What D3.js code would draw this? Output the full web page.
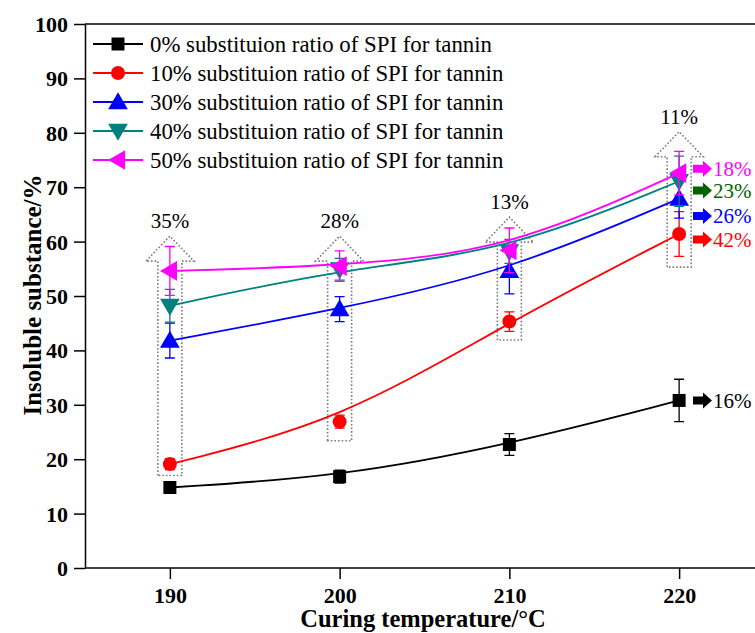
<!DOCTYPE html>
<html>
<head>
<meta charset="utf-8">
<script src="https://cdn.jsdelivr.net/npm/d3@7/dist/d3.min.js"></script>
<style>
  html, body { margin: 0; padding: 0; background: #ffffff; }
  svg { display: block; }
  svg text { font-family: "Liberation Serif", Tinos, "Times New Roman", Times, "DejaVu Serif", serif; }
</style>
</head>
<body>
<svg id="chart" width="755" height="633"></svg>
<script>
// Curing temperatures (°C)
const temps = [190, 200, 210, 220];

// Legend labels for each SPI substitution ratio
const seriesLabels = [
  "0% substituion ratio of SPI for tannin",
  "10% substituion ratio of SPI for tannin",
  "30% substituion ratio of SPI for tannin",
  "40% substituion ratio of SPI for tannin",
  "50% substituion ratio of SPI for tannin"
];

// Insoluble substance (%) per series, and standard deviations
const ratio0  = [14.8, 16.8, 22.7, 30.8];
const ratio10 = [19.1, 26.9, 45.3, 61.4];
const ratio30 = [41.8, 47.6, 54.6, 67.9];
const ratio40 = [48.2, 54.9, 58.2, 71.1];
const ratio50 = [54.6, 55.5, 58.4, 72.6];

const err0  = [0.8, 1.2, 2.0, 3.9];
const err10 = [1.0, 1.2, 1.8, 4.1];
const err30 = [3.2, 2.3, 4.2, 3.6];
const err40 = [3.0, 2.0, 2.2, 4.6];
const err50 = [4.5, 2.8, 4.1, 4.0];

const seriesColors = ["#000000", "#ff0000", "#0000ff", "#008080", "#ff00ff"];
const seriesSymbols = ["square", "circle", "triangleUp", "triangleDown", "triangleLeft"];

// Increase in insoluble substance from 0% to 50% substitution at each temperature
const riseLabels = ["35%", "28%", "13%", "11%"];
const riseFrom   = [17.0, 23.4, 41.9, 55.3];
const riseTo     = [61.0, 61.0, 64.5, 80.2];

// Increase from 190 °C to 220 °C for each series
const gainLabels = ["18%", "23%", "26%", "42%", "16%"];
const gainColors = ["#ff00ff", "#006400", "#0000ff", "#ff0000", "#000000"];
const gainLevels = [73.4, 69.4, 64.7, 60.4, 30.8];

const yTicks = [0, 10, 20, 30, 40, 50, 60, 70, 80, 90, 100];
const xTicks = [190, 200, 210, 220];

const values = [ratio0, ratio10, ratio30, ratio40, ratio50];
const errors = [err0, err10, err30, err40, err50];

const FONT = '"Liberation Serif", Tinos, "Times New Roman", Times, "DejaVu Serif", serif';

const svg = d3.select("#chart");
const plot = { left: 85, top: 24, right: 764, bottom: 568 };

const x = d3.scaleLinear().domain([185, 225]).range([plot.left, plot.right]);
const y = d3.scaleLinear().domain([0, 100]).range([plot.bottom, plot.top]);

// Frame line along the top
svg.append("line")
  .attr("x1", plot.left).attr("x2", plot.right)
  .attr("y1", plot.top).attr("y2", plot.top)
  .attr("stroke", "#000").attr("stroke-width", 1.5);

// Axes
const yAxis = svg.append("g")
  .attr("transform", `translate(${plot.left},0)`)
  .call(d3.axisLeft(y).tickValues(yTicks).tickSize(11).tickPadding(6).tickSizeOuter(0));
const xAxis = svg.append("g")
  .attr("transform", `translate(0,${plot.bottom})`)
  .call(d3.axisBottom(x).tickValues(xTicks).tickSize(11).tickPadding(8).tickSizeOuter(0));

[yAxis, xAxis].forEach(g => {
  g.attr("font-family", null).attr("font-size", null);
  g.select(".domain").attr("stroke", "#000").attr("stroke-width", 1.5);
  g.selectAll(".tick line").attr("stroke", "#000").attr("stroke-width", 1.5);
  g.selectAll(".tick text")
    .attr("fill", "#000")
    .style("font-family", FONT)
    .style("font-weight", "bold")
    .style("font-size", "22px");
});
xAxis.select(".domain").attr("d", `M${plot.left},0H${plot.right}`);
yAxis.selectAll(".tick text").attr("dy", "0.34em");

// Axis titles
svg.append("text")
  .attr("transform", "translate(41,295) rotate(-90)")
  .attr("text-anchor", "middle")
  .style("font-family", FONT)
  .style("font-weight", "bold").style("font-size", "25px")
  .text("Insoluble substance/%");
svg.append("text")
  .attr("x", 423).attr("y", 627)
  .attr("text-anchor", "middle")
  .style("font-family", FONT)
  .style("font-weight", "bold").style("font-size", "24.5px")
  .text("Curing temperature/\u00B0C");

// Dotted hollow arrows spanning the series at each temperature
const shaftHalf = 12, wingHalf = 24, headLen = 25;
const riseGroup = svg.append("g");
temps.forEach((t, i) => {
  const cx = x(t), yb = y(riseFrom[i]), yt = y(riseTo[i]);
  const yw = yt + headLen;
  const pts = [
    [cx - shaftHalf, yb], [cx - shaftHalf, yw], [cx - wingHalf, yw], [cx, yt],
    [cx + wingHalf, yw], [cx + shaftHalf, yw], [cx + shaftHalf, yb]
  ];
  riseGroup.append("path")
    .attr("d", d3.line()(pts) + "Z")
    .attr("fill", "none")
    .attr("stroke", "#7a7a7a")
    .attr("stroke-width", 1.6)
    .attr("stroke-dasharray", "1.6,2");
  riseGroup.append("text")
    .attr("x", cx).attr("y", yt - 8)
    .attr("text-anchor", "middle")
    .style("font-family", FONT)
    .style("font-size", "21px")
    .text(riseLabels[i]);
});

// Marker shapes
const symbolPath = (kind, s) => {
  switch (kind) {
    case "square": return `M${-s/2},${-s/2}h${s}v${s}h${-s}Z`;
    case "circle": return d3.symbol(d3.symbolCircle, Math.PI * (s/2) * (s/2))();
    case "triangleUp": return `M0,${-s*0.58}L${s*0.58},${s*0.42}L${-s*0.58},${s*0.42}Z`;
    case "triangleDown": return `M0,${s*0.58}L${s*0.58},${-s*0.42}L${-s*0.58},${-s*0.42}Z`;
    case "triangleLeft": return `M${-s*0.58},0L${s*0.42},${-s*0.58}L${s*0.42},${s*0.58}Z`;
  }
};
const symbolSizes = [13, 14, 17, 17, 17];

// Series: smoothed lines, error bars and markers
const line = d3.line().x(d => x(d[0])).y(d => y(d[1])).curve(d3.curveBasis);
values.forEach((vals, si) => {
  const g = svg.append("g");
  const color = seriesColors[si];
  const pts = temps.map((t, i) => [t, vals[i]]);
  g.append("path")
    .attr("d", line(pts))
    .attr("fill", "none")
    .attr("stroke", color)
    .attr("stroke-width", 1.8);
  temps.forEach((t, i) => {
    const cx = x(t), hi = y(vals[i] + errors[si][i]), lo = y(vals[i] - errors[si][i]);
    g.append("path")
      .attr("d", `M${cx},${hi}V${lo}M${cx - 5},${hi}h10M${cx - 5},${lo}h10`)
      .attr("fill", "none")
      .attr("stroke", color)
      .attr("stroke-width", 1.3);
    g.append("path")
      .attr("transform", `translate(${cx},${y(vals[i])})`)
      .attr("d", symbolPath(seriesSymbols[si], symbolSizes[si]))
      .attr("fill", color);
  });
});

// Block arrows with increase labels on the right
gainLabels.forEach((lab, i) => {
  const yc = y(gainLevels[i]);
  const x0 = 693;
  const g = svg.append("g").attr("fill", gainColors[i]);
  g.append("path")
    .attr("d", `M${x0},${yc - 4}H${x0 + 10}V${yc - 8}L${x0 + 19},${yc}L${x0 + 10},${yc + 8}V${yc + 4}H${x0}Z`);
  g.append("text")
    .attr("x", x0 + 20).attr("y", yc)
    .attr("dy", "0.35em")
    .style("font-family", FONT)
    .style("font-size", "21px")
    .text(lab);
});

// Legend
const legend = svg.append("g");
seriesLabels.forEach((lab, i) => {
  const yc = 44 + i * 29;
  legend.append("line")
    .attr("x1", 93).attr("x2", 143)
    .attr("y1", yc).attr("y2", yc)
    .attr("stroke", seriesColors[i]).attr("stroke-width", 1.8);
  legend.append("path")
    .attr("transform", `translate(118,${yc})`)
    .attr("d", symbolPath(seriesSymbols[i], symbolSizes[i]))
    .attr("fill", seriesColors[i]);
  legend.append("text")
    .attr("x", 150).attr("y", yc)
    .attr("dy", "0.35em")
    .style("font-family", FONT)
    .style("font-size", "22.8px")
    .text(lab);
});
</script>
</body>
</html>
